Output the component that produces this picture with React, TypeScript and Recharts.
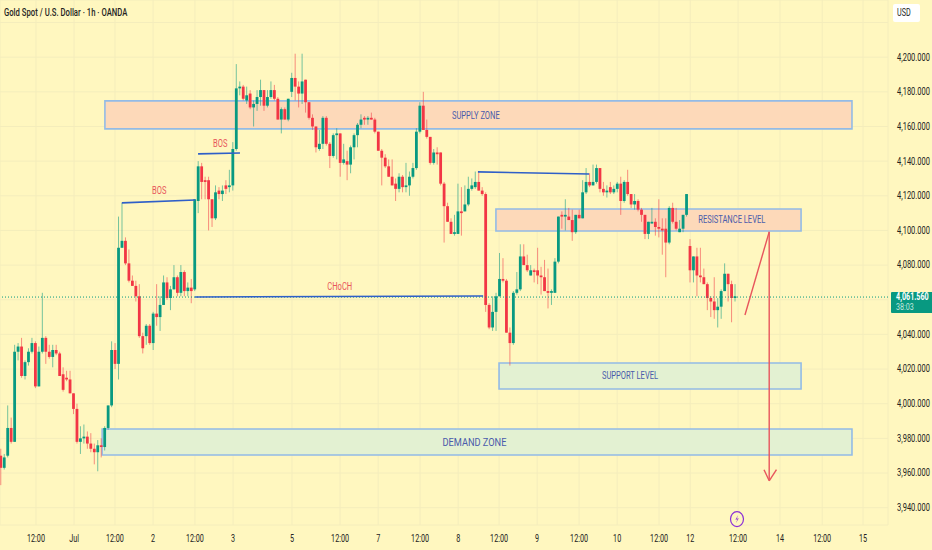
import React from "react";
import {
  ComposedChart, Bar, XAxis, YAxis, CartesianGrid, ReferenceArea, ReferenceLine, ReferenceDot,
} from "recharts";

const opens = [
  3970,3963,3970,3986,3978,4030,4033,4016,4024,4030,
  4035,4010,4030,4038,4030,4027,4031,4029,4017,4015,
  4014,4006,3997,3978,3980,3981,3977,3974,3972,3976,
  3975,3986,3999,4031,4023,4090,4094,4081,4071,4068,
  4062,4039,4039,4045,4035,4052,4050,4057,4070,4061,
  4066,4073,4064,4076,4065,4067,4066,4117,4137,4129,
  4129,4118,4107,4123,4121,4126,4125,4126,4147,4182,
  4183,4175,4179,4171,4173,4177,4181,4172,4177,4181,
  4176,4164,4170,4164,4180,4188,4183,4179,4187,4174,
  4165,4160,4147,4150,4165,4150,4143,4155,4156,4139,
  4140,4138,4148,4155,4161,4165,4164,4165,4164,4157,
  4146,4142,4137,4131,4127,4124,4131,4125,4126,4131,
  4136,4157,4172,4158,4154,4139,4145,4145,4127,4114,
  4105,4098,4098,4111,4111,4115,4124,4125,4128,4123,
  4121,4057,4044,4053,4062,4072,4071,4041,4035,4064,
  4066,4085,4080,4074,4077,4077,4074,4073,4065,4064,
  4064,4082,4109,4108,4108,4106,4099,4109,4107,4122,
  4128,4126,4128,4136,4124,4122,4125,4122,4124,4127,
  4117,4128,4121,4115,4117,4112,4109,4098,4104,4105,
  4102,4101,4101,4093,4113,4105,4099,4101,4109,4091,
  4077,4085,4074,4073,4069,4061,4059,4054,4056,4065,4075,4069,4061,
];
const closes = [
  3963,3969,3986,3978,4030,4033,4016,4024,4030,4035,
  4010,4030,4038,4030,4027,4031,4029,4016,4008,4014,
  4006,3997,3978,3980,3981,3977,3974,3972,3976,3975,
  3986,3999,4031,4023,4090,4094,4081,4071,4068,4062,
  4039,4032,4045,4035,4052,4050,4057,4070,4061,4066,
  4073,4064,4076,4065,4067,4065,4118,4137,4128,4128,
  4118,4107,4122,4121,4123,4124,4126,4147,4182,4183,
  4176,4178,4171,4173,4177,4181,4172,4177,4181,4176,
  4164,4170,4164,4176,4188,4183,4179,4186,4174,4165,
  4160,4148,4150,4165,4150,4143,4155,4156,4139,4141,
  4138,4148,4155,4161,4164,4164,4165,4164,4157,4146,
  4142,4137,4131,4126,4124,4131,4125,4126,4131,4136,
  4157,4172,4158,4154,4139,4145,4144,4127,4114,4105,
  4098,4099,4111,4110,4115,4124,4126,4128,4123,4121,
  4057,4044,4053,4062,4072,4071,4041,4035,4064,4066,
  4085,4080,4077,4077,4076,4074,4073,4065,4064,4065,
  4082,4108,4108,4109,4106,4099,4109,4107,4122,4128,
  4126,4128,4136,4124,4122,4123,4122,4124,4127,4117,
  4128,4121,4115,4117,4112,4109,4098,4105,4105,4102,
  4101,4100,4093,4113,4105,4101,4101,4109,4121,4077,
  4085,4074,4073,4069,4061,4059,4054,4056,4065,4075,4069,4061,4062,
];
const highs = [
  3974,3971,3999,3992,4034,4035,4038,4025,4032,4038,
  4036,4033,4064,4039,4034,4034,4034,4030,4021,4019,
  4019,4006,4000,3987,3988,3984,3983,3977,3979,3980,
  3987,3999,4036,4035,4108,4116,4096,4089,4074,4071,
  4069,4041,4046,4046,4053,4069,4062,4074,4073,4068,
  4080,4074,4080,4077,4070,4072,4118,4140,4139,4131,
  4131,4118,4126,4125,4126,4129,4135,4151,4196,4186,
  4184,4183,4181,4175,4181,4187,4181,4181,4186,4184,
  4177,4171,4171,4176,4191,4202,4186,4202,4187,4174,
  4167,4160,4158,4166,4166,4151,4156,4159,4156,4150,
  4146,4149,4156,4162,4167,4166,4166,4168,4165,4157,
  4147,4144,4141,4141,4130,4133,4132,4139,4134,4139,
  4159,4174,4180,4164,4154,4147,4148,4145,4128,4116,
  4107,4109,4127,4125,4126,4131,4130,4134,4134,4125,
  4122,4058,4062,4064,4087,4084,4072,4044,4065,4076,
  4092,4092,4086,4080,4078,4090,4079,4083,4078,4066,
  4084,4108,4111,4118,4113,4112,4109,4112,4129,4136,
  4133,4138,4138,4136,4128,4126,4128,4126,4128,4131,
  4129,4135,4121,4121,4118,4113,4109,4105,4113,4107,
  4118,4107,4107,4114,4116,4113,4106,4109,4121,4095,
  4085,4090,4090,4078,4070,4062,4073,4061,4066,4081,4075,4071,4069,
];
const lows = [
  3953,3962,3969,3977,3978,4025,4015,4014,4022,4029,
  4009,4010,4029,4023,4026,4021,4028,4016,4007,4013,
  4006,3994,3977,3971,3977,3974,3972,3965,3961,3969,
  3973,3985,3998,4020,4014,4090,4080,4070,4068,4059,
  4038,4029,4034,4034,4031,4045,4042,4057,4060,4054,
  4066,4062,4062,4062,4062,4058,4065,4110,4118,4118,
  4100,4102,4106,4118,4117,4121,4122,4123,4146,4178,
  4175,4173,4170,4160,4169,4172,4169,4171,4176,4175,
  4164,4156,4164,4163,4177,4175,4171,4173,4168,4164,
  4158,4145,4146,4147,4149,4136,4142,4141,4131,4138,
  4129,4133,4141,4148,4159,4161,4161,4164,4156,4146,
  4126,4136,4131,4126,4117,4122,4122,4122,4120,4130,
  4135,4156,4158,4153,4138,4138,4138,4126,4093,4105,
  4098,4097,4098,4097,4111,4114,4123,4124,4123,4120,
  4053,4043,4042,4042,4062,4070,4041,4022,4034,4063,
  4065,4080,4076,4074,4070,4069,4063,4065,4055,4057,
  4064,4081,4101,4100,4106,4094,4098,4107,4107,4121,
  4125,4126,4127,4122,4120,4119,4121,4121,4122,4109,
  4116,4120,4113,4112,4111,4105,4095,4095,4104,4097,
  4096,4086,4073,4092,4104,4100,4099,4099,4108,4070,
  4070,4062,4070,4069,4054,4050,4049,4044,4049,4065,4059,4047,4059,
];

const timeTicks = [10.1,21.1,32.9,43.9,56,67,84,97.9,108.9,121,132,143.8,154.8,166.9,177.9,190,199,212.8,224.9,237.1,248.9];
const timeLabels = ["12:00","Jul","12:00","2","12:00","3","5","12:00","7","12:00","8","12:00","9","12:00","10","12:00","12","12:00","14","12:00","15"];
const priceTicks = [3940,3960,3980,4000,4020,4040,4060,4080,4100,4120,4140,4160,4180,4200,4220];
const hiddenPriceTicks = [4060,4220];
const lastPrice = 4061.56;

const zones = [
  { name: "SUPPLY ZONE", x1: 30, x2: 245.7, y1: 4158.6, y2: 4174.8, labelX: 137.1, labelY: 4166.5 },
  { name: "RESISTANCE LEVEL", x1: 142.9, x2: 231, y1: 4099.7, y2: 4112.4, labelX: 211, labelY: 4106.5 },
  { name: "SUPPORT LEVEL", x1: 143.8, x2: 231, y1: 4008.5, y2: 4023.5, labelX: 181.6, labelY: 4016 },
  { name: "DEMAND ZONE", x1: 29.2, x2: 245.7, y1: 3970.4, y2: 3985.4, labelX: 136.7, labelY: 3977.5 },
];
const blueLines = [
  [34.9, 4115.9, 56, 4117.6],
  [56.9, 4144.2, 69, 4144.7],
  [56, 4061.6, 139.2, 4062.2],
  [137.7, 4133.8, 169.8, 4132.6],
];
const redLines = [
  [214.8, 4051.2, 221.8, 4099.2],
  [221.8, 4099.2, 221.8, 3956.1],
  [220.3, 3961.9, 221.8, 3955.5],
  [223.9, 3961.9, 221.8, 3955.5],
];
const redNotes = [
  { name: "BOS", x: 45.7, y: 4122.8 },
  { name: "BOS", x: 63.3, y: 4149.9 },
  { name: "CHoCH", x: 97.8, y: 4067.4 },
];

const data = opens.map((open, i) => ({ i, open, close: closes[i], high: highs[i], low: lows[i] }));

const UP = "#089981";
const DOWN = "#f23645";
const FONT = "Roboto, 'Liberation Sans', sans-serif";
const ZONE_FILL: Record<string, string> = {
  "SUPPLY ZONE": "#fdd9b9",
  "RESISTANCE LEVEL": "#fdd9b9",
  "SUPPORT LEVEL": "#e3f1d2",
  "DEMAND ZONE": "#e3f1d2",
};
const ZONE_SQUEEZE: Record<string, number> = {
  "SUPPLY ZONE": 0.72,
  "RESISTANCE LEVEL": 0.72,
  "SUPPORT LEVEL": 0.72,
  "DEMAND ZONE": 0.88,
};

function Squeezed({ x, y, sx = 0.72, size = 10, fill = "#222", weight = 400, anchor = "middle", children }: any) {
  return (
    <text
      transform={`translate(${x},${y}) scale(${sx},1)`}
      fontFamily={FONT}
      fontSize={size}
      fontWeight={weight}
      fill={fill}
      textAnchor={anchor}
      dominantBaseline="central"
    >
      {children}
    </text>
  );
}

function Candle(props: any) {
  const { x, y, width, height, payload } = props;
  if (!payload) return null;
  const k = height / Math.max(payload.high - payload.low, 1);
  const c = x + width / 2;
  const color = payload.close >= payload.open ? UP : DOWN;
  const top = y + (payload.high - Math.max(payload.open, payload.close)) * k;
  const bodyH = Math.max(Math.abs(payload.open - payload.close) * k, 1.4);
  return (
    <g>
      <line x1={c} x2={c} y1={y} y2={y + height} stroke={color} strokeWidth={1} opacity={0.55} />
      <rect x={c - 1.4} y={top} width={2.8} height={bodyH} fill={color} />
    </g>
  );
}

function TimeTick({ x, y, payload }: any) {
  const idx = timeTicks.indexOf(payload.value);
  return <Squeezed x={x} y={y + 6} size={10} sx={0.72}>{timeLabels[idx]}</Squeezed>;
}

function PriceTick({ x, y, payload }: any) {
  if (hiddenPriceTicks.includes(payload.value)) return null;
  return (
    <Squeezed x={x + 1} y={y} anchor="start" size={10} sx={0.75}>
      {payload.value.toLocaleString("en-US", { minimumFractionDigits: 3 })}
    </Squeezed>
  );
}

function PriceTag({ cx, cy }: any) {
  return (
    <g>
      <rect x={cx + 3} y={cy - 5} width={42} height={21} rx={1} fill={UP} />
      <Squeezed x={cx + 8} y={cy} anchor="start" size={10} sx={0.72} fill="#fff" weight={700}>
        {lastPrice.toLocaleString("en-US", { minimumFractionDigits: 3 })}
      </Squeezed>
      <Squeezed x={cx + 8} y={cy + 10} anchor="start" size={9.5} sx={0.75} fill="#c6e8df">38:03</Squeezed>
    </g>
  );
}

function Bolt({ cx, cy }: any) {
  return (
    <g>
      <ellipse cx={cx} cy={cy} rx={6.5} ry={7.5} fill="#fff7bf" stroke="#8b2fd6" strokeWidth={1.2} />
      <path d={`M${cx + 1.2} ${cy - 4}L${cx - 1.6} ${cy + 0.6}L${cx + 0.4} ${cy + 0.2}L${cx - 1} ${cy + 4}L${cx + 1.8} ${cy - 0.8}L${cx - 0.2} ${cy - 0.4}Z`} fill="#8b2fd6" />
    </g>
  );
}

export default function App() {
  return (
    <div style={{ position: "absolute", left: 0, top: 0, width: 932, height: 550, background: "#fff7bf", overflow: "hidden" }}>
      <ComposedChart width={932} height={550} data={data} margin={{ top: 0, right: 0, bottom: 0, left: 0 }}>
        <CartesianGrid stroke="#f4edbc" strokeWidth={1} />
        <XAxis
          dataKey="i" type="number" domain={[-0.29, 256.1]} ticks={timeTicks} interval={0}
          axisLine={false} tickLine={false} height={25} tick={<TimeTick />} allowDataOverflow
        />
        <YAxis
          orientation="right" type="number" domain={[3930, 4233]} ticks={priceTicks} interval={0}
          axisLine={false} tickLine={false} width={44} tick={<PriceTick />} allowDataOverflow
        />
        {zones.map((z) => (
          <ReferenceArea key={z.name} x1={z.x1} x2={z.x2} y1={z.y1} y2={z.y2} fill={ZONE_FILL[z.name]} fillOpacity={1} stroke="#93bbe6" strokeWidth={1.6} ifOverflow="visible" />
        ))}
        <ReferenceLine y={lastPrice} stroke={UP} strokeDasharray="1 2" strokeWidth={1} />
        <Bar dataKey={(d: any) => [d.low, d.high]} barSize={3} shape={<Candle />} isAnimationActive={false} />
        {blueLines.map((s, k) => (
          <ReferenceLine key={k} segment={[{ x: s[0], y: s[1] }, { x: s[2], y: s[3] }]} stroke="#2f5fc8" strokeWidth={1.6} ifOverflow="visible" />
        ))}
        {redLines.map((s, k) => (
          <ReferenceLine key={k} segment={[{ x: s[0], y: s[1] }, { x: s[2], y: s[3] }]} stroke="#e8555c" strokeWidth={1.4} ifOverflow="visible" />
        ))}
        {zones.map((z) => (
          <ReferenceDot
            key={z.name} x={z.labelX} y={z.labelY} r={0} ifOverflow="visible"
            shape={(p: any) => <Squeezed x={p.cx} y={p.cy} size={10.5} sx={ZONE_SQUEEZE[z.name]} fill="#4a5cab">{z.name}</Squeezed>}
          />
        ))}
        {redNotes.map((n) => (
          <ReferenceDot
            key={n.x} x={n.x} y={n.y} r={0} ifOverflow="visible"
            shape={(p: any) => <Squeezed x={p.cx} y={p.cy} size={10.5} sx={0.72} fill="#e8555c">{n.name}</Squeezed>}
          />
        ))}
        <ReferenceDot x={212.5} y={3933.4} r={0} ifOverflow="visible" shape={<Bolt />} />
        <ReferenceDot x={256.1} y={lastPrice} r={0} ifOverflow="visible" shape={<PriceTag />} />
      </ComposedChart>
      <svg width={932} height={30} style={{ position: "absolute", left: 0, top: 0 }}>
        <Squeezed x={4} y={12} anchor="start" size={10.5} sx={0.735} weight={500} fill="#1f1f1f">Gold Spot / U.S. Dollar · 1h · OANDA</Squeezed>
        <rect x={893} y={4} width={27} height={18} rx={2} fill="#fff" />
        <Squeezed x={897} y={13} anchor="start" size={10} sx={0.72}>USD</Squeezed>
      </svg>
    </div>
  );
}
